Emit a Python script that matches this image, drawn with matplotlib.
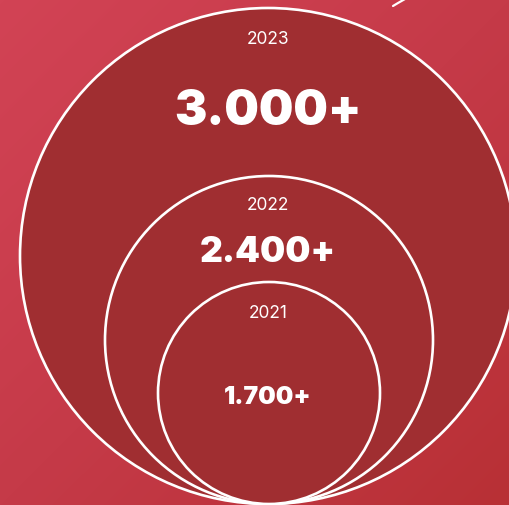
"""
Nested circle graphic: yearly totals
"""

import numpy as np
import matplotlib.pyplot as plt
from matplotlib.patches import Circle
from matplotlib.colors import LinearSegmentedColormap

#---------------------------------------------------------------------------------------------------
# Data
#---------------------------------------------------------------------------------------------------

years = ['2023', '2022', '2021']
totals = ['3.000+', '2.400+', '1.700+']
radii = [248, 164, 111]

#---------------------------------------------------------------------------------------------------
# Plot
#---------------------------------------------------------------------------------------------------

W, H = 510, 505
base_y = 504          # circles all touch at the bottom
cx = 267

fig = plt.figure(figsize=(W / 100, H / 100), dpi=100)
ax = fig.add_axes([0, 0, 1, 1])
ax.set_xlim(0, W)
ax.set_ylim(H, 0)
ax.axis('off')

# Diagonal background gradient
yy, xx = np.mgrid[0:H, 0:W]
t = (xx / W + yy / H) / 2
cmap = LinearSegmentedColormap.from_list('bg', ['#d24355', '#c53a48', '#b83035'])
ax.imshow(t, cmap=cmap, extent=[0, W, H, 0], zorder=0, aspect='auto')

fill = '#a02e31'
year_size = [12.5, 12.5, 12.5]
total_size = [35, 25.5, 17.8]
year_off = [-216, -134, -80]
total_off = [-144, -88, 5]

for i, r in enumerate(radii):
    cy = base_y - r
    ax.add_patch(Circle((cx + (1 if i == 0 else 2), cy), r, facecolor=fill, edgecolor='white',
                        lw=1.9, zorder=2 + i))
    ax.text(cx + 1, cy + year_off[i], years[i], color='white', fontsize=year_size[i],
            ha='center', va='center', family='Inter', weight='normal', zorder=10)
    ax.text(cx + 1, cy + total_off[i], totals[i], color='white', fontsize=total_size[i],
            ha='center', va='center', family='Inter', weight='black', zorder=10)

# Arrow tip peeking in at the top
ax.plot([393, 398, 405], [6, 3, -1], color='white', lw=1.6, zorder=5, solid_capstyle='round')

fig.savefig('out.png', dpi=100)
